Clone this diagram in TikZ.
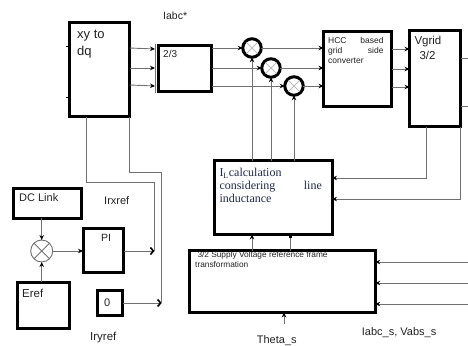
\documentclass[tikz,border=0pt]{standalone}
\usepackage{fontspec}
\setmainfont{Liberation Sans}
\newfontfamily\arialf{Liberation Sans}
\newfontfamily\ilfont{Liberation Serif}
\usetikzlibrary{arrows.meta}
\definecolor{linec}{HTML}{707070}
\definecolor{txt}{HTML}{222222}
\definecolor{iltxt}{HTML}{1F2A48}
\newcommand{\fs}[1]{\arialf\fontsize{#1}{#1}\selectfont}
\newcommand{\fsr}[1]{\ilfont\fontsize{#1}{#1}\selectfont}
\begin{document}
\begin{tikzpicture}[x=1pt,y=-1pt,
  blk/.style={draw=black, line width=3pt, inner sep=0pt, outer sep=0pt},
  conn/.style={draw=linec, line width=0.9pt},
  arr/.style={-{Stealth[length=5pt,width=4.5pt,color=black]}},
  barb/.style={-{Straight Barb[length=3pt,width=7pt,line width=1.6pt,color=black]}},
  mult/.style={circle, draw=black, line width=3pt, minimum size=18.5pt, inner sep=0pt, outer sep=0pt},
  sumc/.style={circle, draw=linec, line width=0.9pt, minimum size=22pt, inner sep=0pt, outer sep=0pt},
  xline/.style={draw=gray!50, line width=0.8pt},
  lbl/.style={inner sep=0pt, anchor=base west, text=txt},
  iltext/.style={inner sep=0pt, anchor=base west, text=iltxt, font=\fsr{12}}
]
\useasboundingbox (0,0) rectangle (468,345);
\fill[white] (0,0) rectangle (468,345);

% boxes
\node[blk, minimum width=60pt, minimum height=94pt] (xy) at (99.5,69.5) {};
\node[blk, minimum width=53pt, minimum height=46pt] (tt) at (185,68.5) {};
\node[blk, minimum width=68pt, minimum height=74pt] (hcc) at (357.5,69) {};
\node[blk, minimum width=51pt, minimum height=96pt] (vg) at (435,78.5) {};
\node[blk, minimum width=118pt, minimum height=73.7pt] (il) at (273,197.6) {};
\node[blk, minimum width=185.4pt, minimum height=62pt] (sup) at (282.5,281.5) {};
\node[blk, minimum width=68pt, minimum height=29.7pt] (dc) at (47,203.6) {};
\node[blk, minimum width=40.5pt, minimum height=44pt] (pi) at (103.25,250.8) {};
\node[blk, minimum width=52pt, minimum height=46pt] (eref) at (43,305) {};
\node[blk, minimum width=25pt, minimum height=24.4pt] (zero) at (110,303) {};

% multipliers
\node[mult] (m1) at (252,48) {};
\node[mult] (m2) at (271,68) {};
\node[mult] (m3) at (294,86) {};
\foreach \m in {m1,m2,m3}{
  \draw[xline, shorten <=1.5pt, shorten >=1.5pt] (\m.north west) -- (\m.south east);
  \draw[xline, shorten <=1.5pt, shorten >=1.5pt] (\m.north east) -- (\m.south west);
}
\node[sumc] (sum) at (41.7,251) {};
\draw[xline, draw=linec] (sum.north west) -- (sum.south east) (sum.north east) -- (sum.south west);

% texts
\node[lbl, font=\fs{13}] (xyA) at (77,38) {xy to};
\node[lbl, font=\fs{13}] (xyB) at (77,56) {dq};
\node[lbl, font=\fs{10}] (ttA) at (163,58) {2/3};
\node[lbl, font=\fs{10.5}] (iabc) at (163,20) {Iabc*};
\node[lbl, font=\fs{8.5}] (hccA) at (328,44) {\makebox[55.3pt][l]{HCC\hfill based}};
\node[lbl, font=\fs{8.5}] (hccB) at (328,53.5) {\makebox[55.3pt][l]{grid\hfill side}};
\node[lbl, font=\fs{8.5}] (hccC) at (328,63.3) {converter};
\node[lbl, font=\fs{11.5}] (vgA) at (414.3,45) {Vgrid};
\node[lbl, font=\fs{11.5}] (vgB) at (419.3,59.3) {3/2};
\node[iltext] (ilA) at (219.3,176.3) {I\textsubscript{L}calculation};
\node[iltext] (ilB) at (219.3,189.7) {\makebox[102.4pt][l]{considering\hfill line}};
\node[iltext] (ilC) at (219.3,202.3) {inductance};
\node[lbl, font=\fs{8.3}] (supA) at (197.3,257) {3/2 Supply Voltage reference frame};
\node[lbl, font=\fs{8.3}] (supB) at (195,267.3) {transformation};
\node[lbl, font=\fs{11}] (dcT) at (19,201.7) {DC Link};
\node[lbl, font=\fs{10.5}] (piT) at (101,241) {PI};
\node[lbl, font=\fs{11.5}] (erefT) at (22,297.3) {Eref};
\node[lbl, font=\fs{11}] (zeroT) at (104,306.7) {0};
\node[lbl, font=\fs{11}] (irx) at (104,204) {Irxref};
\node[lbl, font=\fs{11.5}] (iry) at (90,340) {Iryref};
\node[lbl, font=\fs{11}] (iabcs) at (361.7,335) {Iabc\_s, Vabs\_s};
\node[lbl, font=\fs{11}] (theta) at (256.7,343) {Theta\_s};

% free ends
\coordinate (b1) at (155,44);
\coordinate (b2) at (155,93);
\coordinate (o1) at (468,58);
\coordinate (o2) at (468,106);
\coordinate (in1) at (468,262);
\coordinate (in2) at (468,283);
\coordinate (in3) at (468,304);
\coordinate (th) at (284,324);
\coordinate (jx) at (154.5,251);
\coordinate (jy) at (161.7,303);
\coordinate (s1) at (66,47);
\coordinate (s2) at (66,97);

% small input stubs on xy
\draw[black, line width=1pt] (s1) -- (xy.west |- s1);
\draw[black, line width=1pt] (s2) -- (xy.west |- s2);

% thin edge at 2/3 input
\draw[linec, line width=0.9pt] (b1) -- (b2);

% xy -> 2/3
\draw[conn, arr] (xy.east |- 0,48) -- (b1 |- 0,49);
\draw[conn, arr] (xy.east |- 0,68) -- (b1 |- 0,68);
\draw[conn, arr] (xy.east |- 0,85) -- (b1 |- 0,86);

% 2/3 -> multipliers
\draw[conn, arr] (tt.east |- m1) -- (m1.west);
\draw[conn, arr] (tt.east |- m2) -- (m2.west);
\draw[conn, arr] (tt.east |- m3) -- (m3.west);

% multipliers -> HCC
\draw[conn, arr] (m1.east) -- (hcc.west |- m1);
\draw[conn, arr] (m2.east) -- (hcc.west |- m2);
\draw[conn, arr] (m3.east) -- (hcc.west |- m3);

% HCC -> Vgrid
\draw[conn, arr] (hcc.east |- 0,49) -- (vg.west |- 0,49);
\draw[conn, arr] (hcc.east |- 0,69) -- (vg.west |- 0,69);
\draw[conn, arr] (hcc.east |- 0,87) -- (vg.west |- 0,87);

% Vgrid outputs
\draw[conn] (vg.east |- o1) -- (o1);
\draw[conn] (vg.east |- o2) -- (o2);

% Vgrid -> IL
\draw[conn, arr] (vg.south -| 426.7,0) |- (il.east |- 0,178);
\draw[conn, arr] (vg.south -| 460.7,0) |- (il.east |- 0,199);

% IL -> multipliers
\draw[conn, arr] (il.north -| m1) -- (m1.south);
\draw[conn, arr] (il.north -| m2) -- (m2.south);
\draw[conn, arr] (il.north -| m3) -- (m3.south);

% Supply -> IL
\draw[conn, arr] (sup.north -| 252,0) -- (il.south -| 252,0);
\draw[conn, -{Square[length=3pt,width=3pt,color=black]}] (sup.north -| 290,0) -- (il.south -| 290,0);

% inputs -> Supply
\draw[conn, arr] (in1) -- (sup.east |- in1);
\draw[conn, arr] (in2) -- (sup.east |- in2);
\draw[conn, arr] (in3) -- (sup.east |- in3);

% theta
\draw[conn, arr] (th) -- (sup.south -| th);

% DC link loop
\draw[conn, arr] (dc.south -| sum) -- (sum.north);
\draw[conn, arr] (eref.north -| sum) -- (sum.south);
\draw[conn, arr] (sum.east) -- (pi.west |- sum);
\draw[conn, barb] (pi.east |- jx) -- (jx);
\draw[conn, barb] (zero.east |- jy) -- (jy);

% feedback lines from xy
\draw[conn] (xy.south -| 86,0) -- (86,182) -- (154.5,182) -- (jx);
\draw[conn] (xy.south -| 129,0) -- (129,172) -- (161.7,172) -- (jy);
\end{tikzpicture}
\end{document}
